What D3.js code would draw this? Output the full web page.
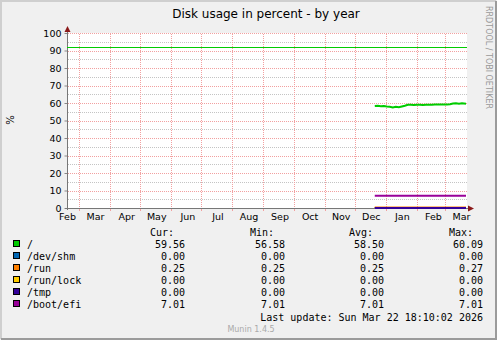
<!DOCTYPE html>
<html>
<head>
<meta charset="utf-8">
<script src="https://cdn.jsdelivr.net/npm/d3@7"></script>
<style>
  body { margin: 0; background: #fff; }
  svg { display: block; }
</style>
</head>
<body>
<svg width="497" height="340"></svg>
<script>
// --- data ---
const monthLabels = ['Feb', 'Mar', 'Apr', 'May', 'Jun', 'Jul', 'Aug', 'Sep', 'Oct', 'Nov', 'Dec', 'Jan', 'Feb', 'Mar'];
const monthStarts = ['2025-02-01', '2025-03-01', '2025-04-01', '2025-05-01', '2025-06-01', '2025-07-01',
                     '2025-08-01', '2025-09-01', '2025-10-01', '2025-11-01', '2025-12-01', '2026-01-01',
                     '2026-02-01', '2026-03-01'];
const yTicks = [0, 10, 20, 30, 40, 50, 60, 70, 80, 90, 100];
const yMinor = [5, 15, 25, 35, 45, 55, 65, 75, 85, 95];
const warnLevel = 92;

const seriesNames = ['/', '/dev/shm', '/run', '/run/lock', '/tmp', '/boot/efi'];
const seriesColors = ['#00CC00', '#0066B3', '#FF8000', '#FFCC00', '#330099', '#990099'];
const curVals = ['59.56', '0.00', '0.25', '0.00', '0.00', '7.01'];
const minVals = ['56.58', '0.00', '0.25', '0.00', '0.00', '7.01'];
const avgVals = ['58.50', '0.00', '0.25', '0.00', '0.00', '7.01'];
const maxVals = ['60.09', '0.00', '0.27', '0.00', '0.00', '7.01'];

// "/" over time
const rootDates = ['2025-12-21', '2025-12-24', '2025-12-27', '2025-12-30', '2026-01-02', '2026-01-05',
                   '2026-01-08', '2026-01-11', '2026-01-14', '2026-01-17', '2026-01-20', '2026-01-23',
                   '2026-01-26', '2026-01-29', '2026-02-01', '2026-02-04', '2026-02-07', '2026-02-10',
                   '2026-02-13', '2026-02-16', '2026-02-19', '2026-02-22', '2026-02-25', '2026-02-28',
                   '2026-03-03', '2026-03-06', '2026-03-09', '2026-03-12', '2026-03-15', '2026-03-18',
                   '2026-03-22'];
const rootValues = [58.3, 58.4, 58.2, 58.3, 58.0, 57.8,
                    57.4, 57.8, 57.6, 58.0, 58.4, 59.0,
                    59.0, 58.8, 59.0, 59.0, 58.8, 59.0,
                    59.0, 59.0, 59.1, 59.1, 59.1, 59.2,
                    59.2, 59.3, 59.7, 59.8, 59.6, 59.8,
                    59.56];
// the other mounts are flat over the same span
const flatSpan = ['2025-12-21', '2026-03-22'];
const flatValues = [0, 0.25, 0, 0, 7.01]; // /dev/shm, /run, /run/lock, /tmp, /boot/efi

const parse = d3.timeParse('%Y-%m-%d');
const svg = d3.select('svg');

// dotted grid patterns (1px on, 1px off)
const defs = svg.append('defs');
function dotPattern(id, w, h, color) {
  defs.append('pattern').attr('id', id).attr('patternUnits', 'userSpaceOnUse')
    .attr('width', w).attr('height', h)
    .append('rect').attr('width', 1).attr('height', 1).attr('fill', color);
}
dotPattern('vRed', 1, 2, '#F2A0A0');
dotPattern('hRed', 2, 1, '#F2A0A0');
dotPattern('hGray', 2, 1, '#C4C4C4');

// frame
svg.append('rect').attr('width', 497).attr('height', 340).attr('fill', '#F0F0F0');
svg.append('path').attr('d', 'M1,339V1H496').attr('stroke', '#CFCFCF').attr('stroke-width', 2).attr('fill', 'none');
svg.append('path').attr('d', 'M1,339H496V1').attr('stroke', '#9B9B9B').attr('stroke-width', 2).attr('fill', 'none');

const x = d3.scaleTime()
  .domain([new Date(2025, 1, 17), new Date(2026, 2, 23)])
  .range([67, 467]);
const y = d3.scaleLinear().domain([0, 100]).range([208, 33]);
const px = v => Math.round(v) + 0.5;

// plot background
svg.append('rect').attr('x', 67).attr('y', 33).attr('width', 400).attr('height', 175).attr('fill', '#fff');

// grid
const grid = svg.append('g');
yMinor.forEach(v => {
  grid.append('rect').attr('x', 68).attr('y', Math.round(y(v))).attr('width', 399).attr('height', 1)
    .attr('fill', 'url(#hGray)');
});
yTicks.slice(1).forEach(v => {
  grid.append('rect').attr('x', 68).attr('y', Math.round(y(v))).attr('width', 399).attr('height', 1)
    .attr('fill', 'url(#hRed)');
});
monthStarts.slice(1).forEach(d => {
  const xx = Math.round(x(parse(d)));
  grid.append('rect').attr('x', xx).attr('y', 33).attr('width', 1).attr('height', 175)
    .attr('fill', 'url(#vRed)');
  grid.append('rect').attr('x', xx).attr('y', 208).attr('width', 1).attr('height', 3)
    .attr('fill', '#F2A0A0');
});

// axes
const yAxis = d3.axisLeft(y).tickValues(yTicks).tickSize(3).tickPadding(3);
const yg = svg.append('g').attr('transform', 'translate(67.5,0)').call(yAxis);
yg.select('.domain').remove();
yg.selectAll('line').attr('stroke', '#888');
yg.selectAll('text').attr('font-family', 'DejaVu Sans').attr('font-size', 9.5).attr('fill', '#000');

const labelDates = monthStarts.map(d => d3.timeDay.offset(parse(d), 16));
const xAxis = d3.axisBottom(x).tickValues(labelDates).tickSize(0).tickPadding(5)
  .tickFormat((d, i) => monthLabels[i]);
const xg = svg.append('g').attr('transform', 'translate(0,208.5)').call(xAxis);
xg.select('.domain').remove();
xg.selectAll('text').attr('font-family', 'DejaVu Sans').attr('font-size', 9.5).attr('fill', '#000');

svg.append('line').attr('x1', 67.5).attr('x2', 67.5).attr('y1', 210).attr('y2', 30).attr('stroke', '#777');
svg.append('line').attr('x1', 65).attr('x2', 469).attr('y1', 208.5).attr('y2', 208.5).attr('stroke', '#777');
svg.append('path').attr('d', 'M64.5,32 L67.5,26 L70.5,32 Z').attr('fill', '#8B1A1A');
svg.append('path').attr('d', 'M468,205.5 L474,208.5 L468,211.5 Z').attr('fill', '#8B1A1A');

// warning line
svg.append('line').attr('x1', 67).attr('x2', 467)
  .attr('y1', px(y(warnLevel))).attr('y2', px(y(warnLevel)))
  .attr('stroke', '#00CC00').attr('stroke-width', 1);

// series
const line = d3.line().x(d => x(d[0])).y(d => y(d[1]));
const rootData = rootDates.map((d, i) => [parse(d), rootValues[i]]);
svg.append('path').attr('d', line(rootData)).attr('fill', 'none')
  .attr('stroke', seriesColors[0]).attr('stroke-width', 2);
flatValues.forEach((v, i) => {
  svg.append('path').attr('d', line(flatSpan.map(d => [parse(d), v])))
    .attr('fill', 'none').attr('stroke', seriesColors[i + 1]).attr('stroke-width', 2);
});

// texts
svg.append('text').attr('x', 266).attr('y', 18).attr('text-anchor', 'middle')
  .attr('font-family', 'DejaVu Sans').attr('font-size', 12).text('Disk usage in percent - by year');
svg.append('text').attr('transform', 'translate(14,120) rotate(-90)').attr('text-anchor', 'middle')
  .attr('font-family', 'DejaVu Sans').attr('font-size', 10).text('%');
svg.append('text').attr('transform', 'translate(486,6) rotate(90)')
  .attr('font-family', 'DejaVu Sans').attr('font-size', 8).attr('fill', '#999')
  .text('RRDTOOL / TOBI OETIKER');

// legend
const mono = 'DejaVu Sans Mono';
const leg = svg.append('g').attr('font-family', mono).attr('font-size', 10).attr('fill', '#000');
const heads = [['Cur:', 150], ['Min:', 250], ['Avg:', 349], ['Max:', 449]];
heads.forEach(h => leg.append('text').attr('x', h[1]).attr('y', 236).text(h[0]));
const cols = [[curVals, 185], [minVals, 285], [avgVals, 384], [maxVals, 483]];
seriesNames.forEach((name, i) => {
  const yy = 248 + i * 12;
  leg.append('rect').attr('x', 13.5).attr('y', yy - 7.5).attr('width', 6).attr('height', 6)
    .attr('fill', seriesColors[i]).attr('stroke', '#000');
  leg.append('text').attr('x', 27).attr('y', yy).text(name);
  cols.forEach(c => leg.append('text').attr('x', c[1]).attr('y', yy).attr('text-anchor', 'end').text(c[0][i]));
});
leg.append('text').attr('x', 483).attr('y', 321).attr('text-anchor', 'end')
  .text('Last update:  Sun Mar 22 18:10:02 2026');
svg.append('text').attr('x', 251).attr('y', 332).attr('text-anchor', 'middle')
  .attr('font-family', 'DejaVu Sans').attr('font-size', 8).attr('fill', '#AAA').text('Munin 1.4.5');
</script>
</body>
</html>
